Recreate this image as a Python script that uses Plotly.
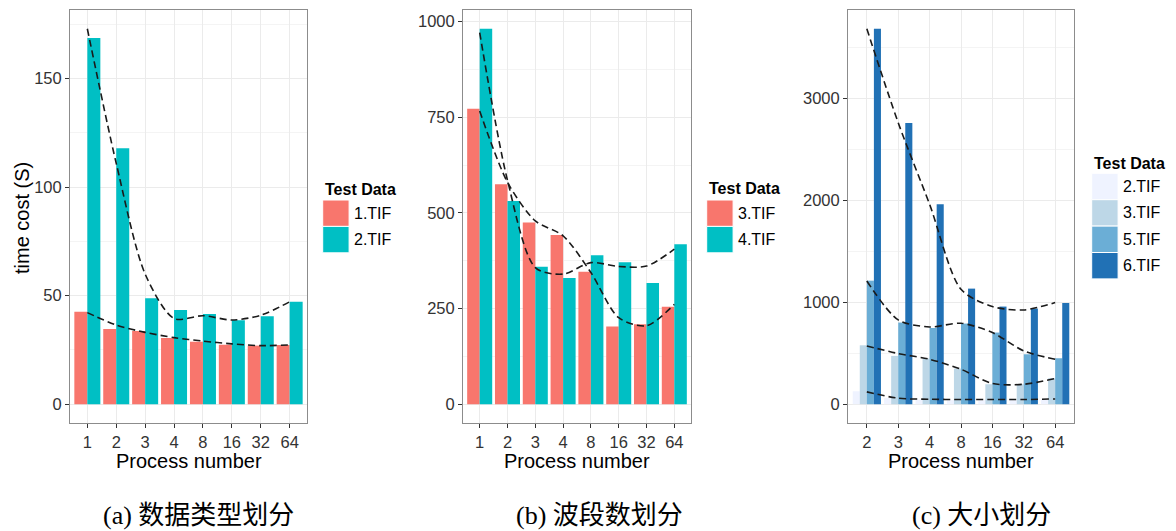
import plotly.graph_objects as go

# ---- data ----
proc_ab = ["1", "2", "3", "4", "8", "16", "32", "64"]
proc_c = ["2", "3", "4", "8", "16", "32", "64"]

# (a) split by data type
a_names = ["1.TIF", "2.TIF"]
a_bar_1 = [42.6, 34.7, 33.7, 30.5, 28.8, 27.4, 27.0, 27.3]
a_bar_2 = [168.8, 117.9, 48.8, 43.4, 41.6, 38.7, 40.5, 47.2]
a_fit_1 = [42.2, 36.5, 33.1, 30.7, 29.1, 27.8, 27.0, 27.3]
a_fit_2 = [173.0, 111.0, 60.0, 39.5, 40.8, 38.8, 41.0, 47.2]

# (b) split by band count
b_names = ["3.TIF", "4.TIF"]
b_bar_3 = [772, 575, 475, 442, 346, 203, 209, 255]
b_bar_4 = [981, 531, 359, 330, 389, 371, 317, 418]
b_fit_3 = [766, 580, 479, 440, 344, 226, 205, 261]
b_fit_4 = [971, 585, 357, 340, 370, 360, 361, 405]

# (c) split by size
c_names = ["2.TIF", "3.TIF", "5.TIF", "6.TIF"]
c_bar_2 = [127, 60, 45, 40, 38, 40, 45]
c_bar_3 = [578, 474, 448, 350, 196, 196, 255]
c_bar_5 = [1212, 801, 748, 791, 703, 490, 451]
c_bar_6 = [3683, 2758, 1961, 1134, 958, 938, 993]
c_fit_2 = [121, 59, 49, 46, 46, 46, 52]
c_fit_3 = [572, 497, 441, 343, 203, 196, 252]
c_fit_5 = [1209, 827, 758, 794, 703, 523, 441]
c_fit_6 = [3683, 2761, 1961, 1127, 958, 925, 997]

a_ticks = [0, 50, 100, 150]
b_ticks = [0, 250, 500, 750, 1000]
c_ticks = [0, 1000, 2000, 3000]

captions = ["(a) 数据类型划分", "(b) 波段数划分", "(c) 大小划分"]

# ---- styling ----
W, H = 1176, 531
HUE = ["#F8766D", "#00BFC4"]
BLUES = ["#EFF3FF", "#BDD7E7", "#6BAED6", "#2171B5"]
SANS = "Liberation Sans, Arial, sans-serif"


def px(x):
    return x / W


def py(y):
    return 1 - y / H


def label(text, x, y, size, family=SANS, xanchor="center", angle=0):
    fig.add_annotation(text=text, x=px(x), y=py(y), xref="paper", yref="paper",
                       xanchor=xanchor, yanchor="middle", showarrow=False,
                       textangle=angle,
                       font=dict(family=family, size=size, color="black"))


panel_x = [(70, 307), (463, 691), (848, 1074)]
panel_y = (10, 423)

fig = go.Figure()

panels = [
    (proc_ab, a_names, [a_bar_1, a_bar_2], [a_fit_1, a_fit_2], HUE, a_ticks),
    (proc_ab, b_names, [b_bar_3, b_bar_4], [b_fit_3, b_fit_4], HUE, b_ticks),
    (proc_c, c_names, [c_bar_2, c_bar_3, c_bar_5, c_bar_6],
     [c_fit_2, c_fit_3, c_fit_5, c_fit_6], BLUES, c_ticks),
]

dash_line = dict(color="#1a1a1a", width=1.6, dash="7px,4px",
                 shape="spline", smoothing=0.8)

for i, (cats, names, bars, fits, colors, ticks) in enumerate(panels):
    sfx = "" if i == 0 else str(i + 1)
    xa, ya = "x" + sfx, "y" + sfx
    for name, vals, col in zip(names, bars, colors):
        fig.add_trace(go.Bar(x=cats, y=vals, name=name, marker_color=col,
                             marker_line_width=0, xaxis=xa, yaxis=ya,
                             showlegend=False))
    for name, vals in zip(names, fits):
        fig.add_trace(go.Scatter(x=cats, y=vals, mode="lines", line=dash_line,
                                 xaxis=xa, yaxis=ya, showlegend=False,
                                 name=name + " trend"))

    # y range with 5% padding, like ggplot's default expansion
    hi = max(max(v) for v in bars + fits)
    pad = 0.05 * hi
    step = ticks[1] - ticks[0]

    axis_common = dict(showline=True, mirror=True, linecolor="#8c8c8c",
                       linewidth=1, ticks="outside", ticklen=4,
                       tickcolor="#333333", tickwidth=1,
                       tickfont=dict(family=SANS, size=16.5, color="#333333"),
                       gridcolor="#EBEBEB", gridwidth=1.2, zeroline=False)
    fig.layout["xaxis" + sfx] = dict(
        axis_common, domain=[px(panel_x[i][0]), px(panel_x[i][1])],
        anchor=ya, type="category", range=[-0.6, len(cats) - 0.4],
        categoryorder="array", categoryarray=cats)
    fig.layout["yaxis" + sfx] = dict(
        axis_common, domain=[py(panel_y[1]), py(panel_y[0])],
        anchor=xa, range=[-pad, hi + pad], tickvals=ticks,
        minor=dict(dtick=step / 2, tick0=0, showgrid=True,
                   gridcolor="#F4F4F4", gridwidth=1, ticks=""))

    label("Process number", (panel_x[i][0] + panel_x[i][1]) / 2, 461, 20)

# legend blocks drawn as keys + labels
legend_pos = [
    (322.7, 190, 200),
    (706.7, 189, 200),
    (1091.7, 163, 173.3),
]
KEY_W, KEY_H = 26.4, 26.4
for i, (cats, names, bars, fits, colors, ticks) in enumerate(panels):
    lx, ty, ky = legend_pos[i]
    label("<b>Test Data</b>", lx, ty, 16, xanchor="left")
    for j, (name, col) in enumerate(zip(names, colors)):
        y0 = ky + j * KEY_H
        fig.add_shape(type="rect", xref="paper", yref="paper",
                      x0=px(lx), x1=px(lx + KEY_W), y0=py(y0), y1=py(y0 + KEY_H),
                      fillcolor=col, line=dict(color="white", width=1))
        label(name, lx + KEY_W + 3, y0 + KEY_H / 2, 16, xanchor="left")

caption_x = [198, 599, 981]
for cx, txt in zip(caption_x, captions):
    label(txt, cx, 515, 26, family="Liberation Serif, Noto Sans CJK SC")

label("time cost (S)", 22, 218, 20, angle=-90)

fig.update_layout(width=W, height=H, margin=dict(l=0, r=0, t=0, b=0),
                  paper_bgcolor="white", plot_bgcolor="white",
                  barmode="group", bargap=0.1, bargroupgap=0)

fig.write_html("out.html")
